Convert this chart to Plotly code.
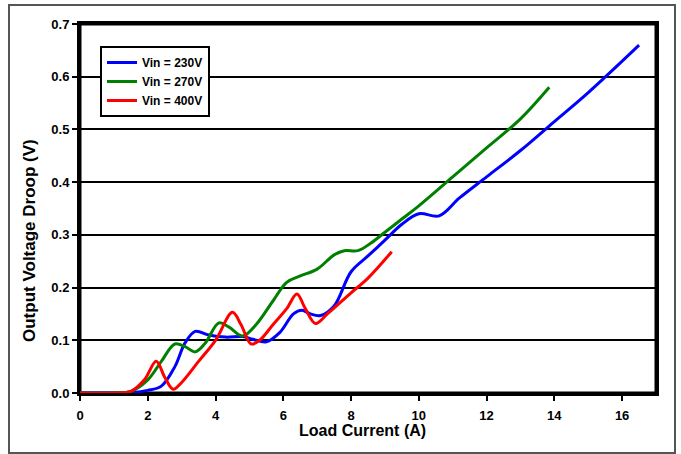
import plotly.graph_objects as go

# Vin = 230V
blue_x = [0, 1.0, 1.5, 2.0, 2.4, 2.8, 3.1, 3.4, 3.8, 4.3, 4.8, 5.1, 5.5, 5.9, 6.3, 6.55, 6.8, 7.1, 7.5, 8.0, 8.5, 9.0, 9.5, 10.0, 10.6, 11.2, 12, 13, 14, 15, 16.5]
blue_y = [0, 0, 0.001, 0.005, 0.013, 0.05, 0.095, 0.117, 0.11, 0.106, 0.107, 0.102, 0.097, 0.115, 0.15, 0.157, 0.15, 0.147, 0.165, 0.23, 0.26, 0.29, 0.32, 0.34, 0.336, 0.37, 0.41, 0.46, 0.515, 0.57, 0.66]

# Vin = 270V
green_x = [0, 1.0, 1.5, 2.0, 2.4, 2.8, 3.1, 3.4, 3.7, 4.1, 4.4, 4.8, 5.2, 5.7, 6.1, 6.5, 7.0, 7.5, 7.8, 8.2, 8.6, 9.0, 9.5, 10, 11, 12, 13, 13.85]
green_y = [0, 0, 0.003, 0.025, 0.06, 0.093, 0.088, 0.078, 0.095, 0.133, 0.125, 0.108, 0.13, 0.175, 0.21, 0.222, 0.235, 0.262, 0.27, 0.27, 0.285, 0.305, 0.33, 0.355, 0.41, 0.465, 0.52, 0.58]

# Vin = 400V
red_x = [0, 1.0, 1.5, 1.9, 2.25, 2.5, 2.75, 3.0, 3.5, 4.0, 4.5, 4.75, 5.05, 5.3, 5.7, 6.1, 6.4, 6.65, 6.95, 7.3, 8, 8.5, 9.2]
red_y = [0, 0, 0.003, 0.025, 0.06, 0.03, 0.007, 0.02, 0.06, 0.1, 0.153, 0.13, 0.093, 0.1, 0.13, 0.16, 0.188, 0.16, 0.132, 0.15, 0.19, 0.218, 0.268]

x_ticks = [0, 2, 4, 6, 8, 10, 12, 14, 16]
y_ticks = [0.0, 0.1, 0.2, 0.3, 0.4, 0.5, 0.6, 0.7]

x_title = "Load Current (A)"
y_title = "Output Voltage Droop (V)"

FONT = "Liberation Sans, Arial, sans-serif"

fig = go.Figure()
for xs, ys, name, col in [(blue_x, blue_y, "Vin = 230V", "#0000ff"),
                          (green_x, green_y, "Vin = 270V", "#008000"),
                          (red_x, red_y, "Vin = 400V", "#ff0000")]:
    fig.add_trace(go.Scatter(x=xs, y=ys, name=name, mode="lines", cliponaxis=False,
                             line=dict(color=col, width=3, shape="spline", smoothing=1.0)))

L, R, T, B = 80, 25, 24, 61
W, H = 681, 454
pw, ph = W - L - R, H - T - B

def px(x):
    return (x - L) / pw

def py(y):
    return (H - B - y) / ph

shapes = [
    # outer frame
    dict(type="rect", xref="paper", yref="paper", x0=px(9), x1=px(675), y0=py(453), y1=py(5),
         line=dict(color="#555555", width=2), layer="below"),
    # plot frame
    dict(type="rect", xref="paper", yref="paper", x0=0, x1=1, y0=0, y1=1,
         line=dict(color="black", width=3), layer="below"),
]

annotations = [
    dict(text=x_title, xref="paper", yref="paper", x=px(362), y=py(431),
         xanchor="center", yanchor="middle", showarrow=False,
         font=dict(size=16, family=FONT, color="black", weight="bold")),
    dict(text=y_title, xref="paper", yref="paper", x=px(29), y=py(241),
         xanchor="center", yanchor="middle", showarrow=False, textangle=-90,
         font=dict(size=17, family=FONT, color="black", weight="bold")),
]

fig.update_layout(
    width=W, height=H,
    margin=dict(l=L, r=R, t=T, b=B),
    paper_bgcolor="white", plot_bgcolor="rgba(0,0,0,0)",
    font=dict(family=FONT, color="black", size=12, weight="bold"),
    shapes=shapes,
    annotations=annotations,
    showlegend=True,
    legend=dict(x=px(100), y=py(46), xanchor="left", yanchor="top",
                bgcolor="white", bordercolor="black", borderwidth=2,
                font=dict(family=FONT, size=12, color="black", weight="bold"),
                itemwidth=30, tracegroupgap=0),
    xaxis=dict(range=[0, 17], tickvals=x_ticks, ticktext=[str(v) for v in x_ticks],
               showgrid=False, zeroline=False,
               showline=True, linecolor="black", linewidth=3, mirror=True,
               ticks="outside", ticklen=5, tickwidth=2, tickcolor="black",
               ticklabelstandoff=3,
               tickfont=dict(size=13, family=FONT, weight="bold")),
    yaxis=dict(range=[0, 0.7], tickvals=y_ticks, ticktext=[f"{v:.1f}" for v in y_ticks],
               showgrid=True, gridcolor="black", gridwidth=2, zeroline=False,
               showline=True, linecolor="black", linewidth=3, mirror=True,
               ticks="outside", ticklen=5, tickwidth=2, tickcolor="black",
               tickfont=dict(size=13, family=FONT, weight="bold")),
)

fig.write_html("out.html", config={"displayModeBar": False},
               post_script="document.body.style.margin='0';document.body.style.padding='0';")
